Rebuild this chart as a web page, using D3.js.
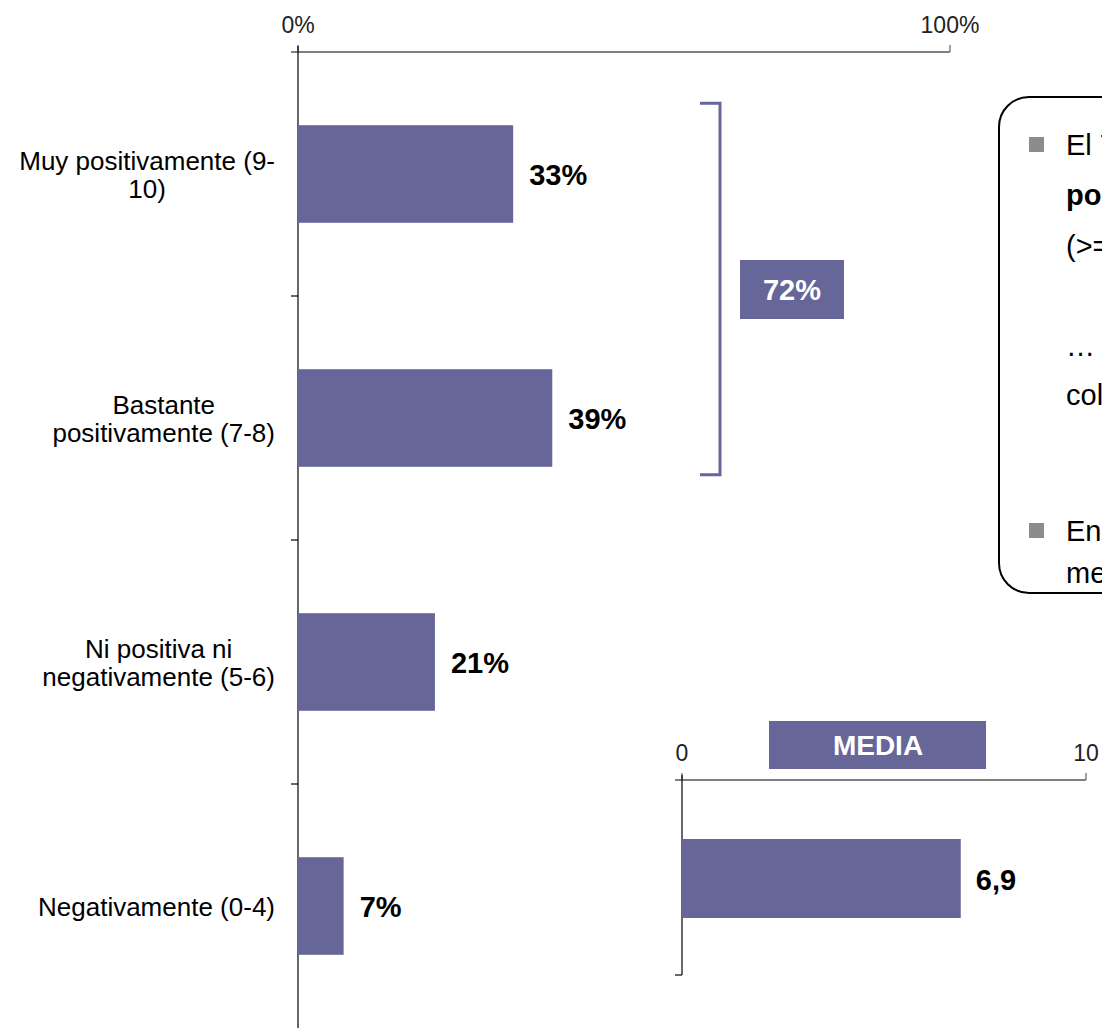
<!DOCTYPE html>
<html><head><meta charset="utf-8">
<script src="https://cdn.jsdelivr.net/npm/d3@7"></script>
<style>html,body{margin:0;padding:0;background:#fff;overflow:hidden}svg{display:block;font-family:"Liberation Sans",Arial,sans-serif}</style>
</head><body>
<svg id="c" width="1102" height="1028"></svg>
<script>
const categories = [["Muy positivamente (9-","10)"],["Bastante","positivamente (7-8)"],["Ni positiva ni","negativamente (5-6)"],["Negativamente (0-4)"]];
const values = [33, 39, 21, 7];
const valueLabels = ["33%","39%","21%","7%"];
const xTicks = [0, 100];
const groupLabel = "72%";
const mediaValue = [6.9];
const mediaLabel = ["6,9"];
const mediaTicks = [0, 10];
const noteLines = [
  {t:"El 72% valora", b:false, bullet:true},
  {t:"positivamente", b:true},
  {t:"(>=7)"},
  {t:""},
  {t:"… destacando"},
  {t:"colectivo"},
  {t:""},
  {t:"En una escala", bullet:true},
  {t:"media de 6,9"}
];

const color = "#666699";
const svg = d3.select("#c");

// main chart
const x = d3.scaleLinear().domain([0,100]).range([298,950]);
const y = d3.scaleBand().domain(d3.range(categories.length)).range([52,1028]).paddingInner(0.6).paddingOuter(0.3);
const yb = d3.scaleBand().domain(d3.range(categories.length)).range([52,1028]);

// top axis
svg.append("line").attr("x1",291).attr("x2",x(100)).attr("y1",52).attr("y2",52).attr("stroke","#7f7f7f").attr("stroke-width",2);
svg.selectAll(".tt").data(xTicks).join("line").attr("x1",d=>x(d)).attr("x2",d=>x(d)).attr("y1",52).attr("y2",45).attr("stroke","#7f7f7f").attr("stroke-width",1.5);
svg.selectAll(".tl").data(xTicks).join("text").attr("x",d=>x(d)).attr("y",33).attr("text-anchor","middle").attr("font-size",23).attr("fill","#222").text(d=>d+"%");

// left axis
svg.append("line").attr("x1",298).attr("x2",298).attr("y1",46).attr("y2",1028).attr("stroke","#000").attr("stroke-width",1.2);
svg.selectAll(".lt").data(d3.range(1,categories.length)).join("line").attr("x1",291).attr("x2",298).attr("y1",d=>yb(d)).attr("y2",d=>yb(d)).attr("stroke","#000").attr("stroke-width",1.2);

// bars
svg.selectAll(".bar").data(values).join("rect").attr("x",x(0)).attr("y",(d,i)=>y(i)).attr("width",d=>x(d)-x(0)).attr("height",y.bandwidth()).attr("fill",color);
svg.selectAll(".vl").data(values).join("text").attr("x",d=>x(d)+16).attr("y",(d,i)=>y(i)+y.bandwidth()/2+11).attr("font-size",29).attr("font-weight","bold").attr("fill","#000").text((d,i)=>valueLabels[i]);

// category labels
categories.forEach((lines,i)=>{
  const cy = y(i)+y.bandwidth()/2;
  const t = svg.append("text").attr("font-size",26).attr("fill","#000").attr("text-anchor","middle");
  const tmp = svg.append("text").attr("font-size",26);
  let w = 0; lines.forEach(l=>{tmp.text(l); w=Math.max(w,tmp.node().getComputedTextLength());}); tmp.remove();
  const cx = 275 - w/2;
  const lh = 28;
  const y0 = cy - (lines.length-1)*lh/2 + 10;
  lines.forEach((l,k)=>t.append("tspan").attr("x",cx).attr("y",y0+k*lh).text(l));
});

// bracket
const by1 = y(0)-22, by2 = y(1)+y.bandwidth()+8;
svg.append("path").attr("d",`M700,${by1} H720 V${by2} H700`).attr("fill","none").attr("stroke",color).attr("stroke-width",3);
svg.append("rect").attr("x",740).attr("y",260).attr("width",104).attr("height",59).attr("fill",color);
svg.append("text").attr("x",792).attr("y",300).attr("text-anchor","middle").attr("font-size",29).attr("font-weight","bold").attr("fill","#fff").text(groupLabel);

// note box
svg.append("rect").attr("x",999).attr("y",97).attr("width",200).attr("height",496).attr("rx",30).attr("fill","#fff").attr("stroke","#000").attr("stroke-width",2);
const noteY = [155,205,256,306,356,405,460,541,583];
noteLines.forEach((n,i)=>{
  if(n.bullet) svg.append("rect").attr("x",1029).attr("y",noteY[i]-18).attr("width",15).attr("height",15).attr("fill","#8c8c8c");
  svg.append("text").attr("x",1066).attr("y",noteY[i]).attr("font-size",29).attr("font-weight",n.b?"bold":"normal").attr("fill","#000").text(n.t);
});

// media chart
const mx = d3.scaleLinear().domain([0,10]).range([682,1086]);
svg.append("line").attr("x1",675).attr("x2",mx(10)).attr("y1",780).attr("y2",780).attr("stroke","#7f7f7f").attr("stroke-width",2);
svg.selectAll(".mt").data(mediaTicks).join("line").attr("x1",d=>mx(d)).attr("x2",d=>mx(d)).attr("y1",780).attr("y2",773).attr("stroke","#7f7f7f").attr("stroke-width",1.5);
svg.selectAll(".ml").data(mediaTicks).join("text").attr("x",d=>mx(d)).attr("y",761).attr("text-anchor","middle").attr("font-size",23).attr("fill","#222").text(d=>d);
svg.append("line").attr("x1",682).attr("x2",682).attr("y1",775).attr("y2",975).attr("stroke","#000").attr("stroke-width",1.2);
svg.append("line").attr("x1",675).attr("x2",682).attr("y1",975).attr("y2",975).attr("stroke","#000").attr("stroke-width",1.2);
svg.selectAll(".mb").data(mediaValue).join("rect").attr("x",mx(0)).attr("y",839).attr("width",d=>mx(d)-mx(0)).attr("height",79).attr("fill",color);
svg.selectAll(".mv").data(mediaValue).join("text").attr("x",d=>mx(d)+15).attr("y",890).attr("font-size",29).attr("font-weight","bold").attr("fill","#000").text((d,i)=>mediaLabel[i]);
svg.append("rect").attr("x",769).attr("y",721).attr("width",217).attr("height",48).attr("fill",color);
svg.append("text").attr("x",878).attr("y",755).attr("text-anchor","middle").attr("font-size",28).attr("font-weight","bold").attr("fill","#fff").text("MEDIA");
</script>
</body></html>
